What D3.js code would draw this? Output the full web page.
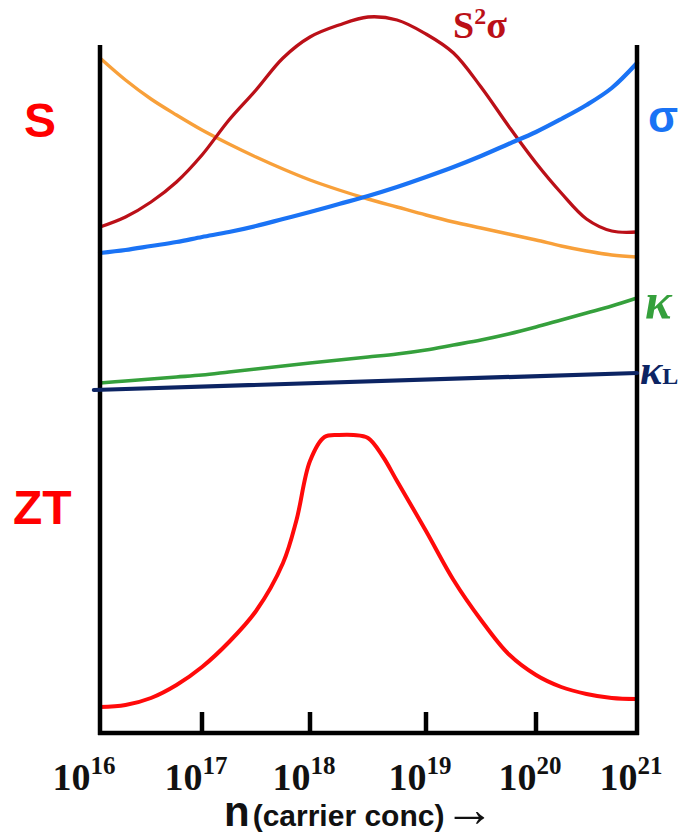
<!DOCTYPE html>
<html>
<head>
<meta charset="utf-8">
<script src="https://cdn.jsdelivr.net/npm/d3@7"></script>
<style>
  html, body { margin: 0; padding: 0; background: #fff; }
  svg { display: block; }
</style>
</head>
<body>
<div id="chart"></div>
<script>
// log10 of carrier concentration, shared grid for most curves
let logN = [16, 16.25, 16.5, 16.75, 17, 17.25, 17.5, 17.75, 18, 18.25, 18.5,
  18.75, 19, 19.25, 19.5, 19.75, 20, 20.25, 20.5, 20.75, 21];

// arbitrary units
let seebeck = [67.5, 65.3, 63.4, 61.8, 60.3, 58.9, 57.6, 56.4, 55.3, 54.3, 53.4,
  52.6, 51.8, 51.1, 50.5, 49.9, 49.3, 48.7, 48.2, 47.8, 47.6];
let powerFactor = [50.6, 51.6, 53.1, 55.1, 57.8, 61.3, 64.3, 67.5, 69.6, 70.8, 71.6,
  71.3, 69.9, 68.0, 64.6, 60.7, 57.0, 54.0, 51.4, 50.2, 50.1];
let sigma = [48.0, 48.3, 48.7, 49.1, 49.6, 50.1, 50.7, 51.4, 52.1, 52.9, 53.7,
  54.6, 55.6, 56.6, 57.7, 58.9, 60.1, 61.4, 62.8, 64.5, 67.0];
let kappa = [35.0, 35.2, 35.4, 35.6, 35.8, 36.1, 36.4, 36.7, 37.0, 37.3, 37.6,
  37.9, 38.3, 38.8, 39.3, 39.9, 40.6, 41.3, 42.0, 42.7, 43.5];

let kappaLLogN = [15.94, 21];
let kappaL = [34.3, 36.0];

let ztLogN = [16, 16.25, 16.5, 16.75, 17, 17.25, 17.5, 17.75, 17.875, 18, 18.125,
  18.25, 18.375, 18.5, 18.625, 18.75, 19, 19.25, 19.5, 19.75, 20, 20.25, 20.5, 20.75, 21];
let zt = [2.6, 2.8, 3.5, 4.8, 6.6, 9.1, 12.2, 17.0, 21.3, 27.2, 29.6,
  29.8, 29.8, 29.5, 27.7, 25.2, 20.2, 15.3, 11.3, 7.9, 5.8, 4.6, 3.9, 3.5, 3.4];

let tickExps = [16, 17, 18, 19, 20, 21];

let width = 681;
let height = 837;

let svg = d3.select('#chart').append('svg')
    .attr('width', width)
    .attr('height', height);

// the hand-drawn decades are not quite evenly spaced
let x = d3.scaleLinear()
    .domain(tickExps)
    .range([100, 202, 310, 426, 536, 637]);
let y = d3.scaleLinear().domain([0, 72]).range([733, 13]);

function drawCurve(xs, ys, color, w) {
  let pts = xs.map((v, i) => [v, ys[i]]);
  svg.append('path')
      .datum(pts)
      .attr('fill', 'none')
      .attr('stroke', color)
      .attr('stroke-width', w)
      .attr('stroke-linecap', 'round')
      .attr('stroke-linejoin', 'round')
      .attr('d', d3.line()
          .curve(d3.curveCatmullRom.alpha(0.5))
          .x((d) => x(d[0]))
          .y((d) => y(d[1])));
}

drawCurve(logN, seebeck, '#f8a03a', 3.4);
drawCurve(logN, powerFactor, '#bb1018', 3.3);
drawCurve(logN, sigma, '#1a73f5', 4.2);
drawCurve(logN, kappa, '#35a03c', 3.6);
drawCurve(ztLogN, zt, '#ff0a0a', 4);

// frame: two verticals + bottom axis with inner ticks
let frame = svg.append('g').attr('stroke', '#000').attr('stroke-width', 4.5);
frame.append('line').attr('x1', x(16)).attr('x2', x(16)).attr('y1', 45).attr('y2', y(0) + 2);
frame.append('line').attr('x1', x(21)).attr('x2', x(21)).attr('y1', 45).attr('y2', y(0) + 2);
frame.append('line').attr('x1', x(16) - 2).attr('x2', x(21) + 2).attr('y1', y(0)).attr('y2', y(0));
frame.selectAll('line.tick')
    .data(tickExps.slice(1, -1))
    .enter().append('line')
    .attr('class', 'tick')
    .attr('x1', (d) => x(d)).attr('x2', (d) => x(d))
    .attr('y1', y(0)).attr('y2', y(0) - 21);

drawCurve(kappaLLogN, kappaL, '#0c2463', 4.2);

// tick labels 10^n
let tl = svg.append('g')
    .attr('font-family', '"Liberation Serif", "Times New Roman", serif')
    .attr('font-weight', 'bold')
    .attr('fill', '#111');
tickExps.forEach((e, i) => {
  let t = tl.append('text')
      .attr('x', x(e) - (i === 0 ? 16 : 6))
      .attr('y', 790)
      .attr('text-anchor', 'middle')
      .attr('font-size', 38);
  t.append('tspan').text('10');
  t.append('tspan').attr('font-size', 25).attr('dy', -16).text(e);
});

// axis title
let title = svg.append('text')
    .attr('x', 224)
    .attr('y', 826)
    .attr('font-family', '"Liberation Sans", Arial, sans-serif')
    .attr('font-weight', 'bold')
    .attr('fill', '#111');
title.append('tspan').attr('font-size', 42).text('n');
title.append('tspan').attr('font-size', 30).attr('dx', 3).text('(carrier conc)');
title.append('tspan')
    .attr('font-family', '"Liberation Serif", serif')
    .attr('font-weight', 'normal')
    .attr('font-size', 50).text('\u2192');

// curve labels
let sans = '"Liberation Sans", Arial, sans-serif';
let serif = '"Liberation Serif", "Times New Roman", serif';

svg.append('text').attr('x', 24).attr('y', 137)
    .attr('font-family', sans).attr('font-weight', 'bold')
    .attr('font-size', 48).attr('fill', '#ff0000').text('S');
svg.append('text').attr('x', 13).attr('y', 524)
    .attr('font-family', sans).attr('font-weight', 'bold')
    .attr('font-size', 48).attr('fill', '#ff0000').text('ZT');

let pf = svg.append('text').attr('x', 453).attr('y', 38)
    .attr('font-family', serif).attr('font-weight', 'bold')
    .attr('font-size', 38).attr('fill', '#bb1018');
pf.append('tspan').text('S');
pf.append('tspan').attr('font-size', 24).attr('dy', -14).text('2');
pf.append('tspan').attr('dy', 14).text('\u03c3');

svg.append('text').attr('x', 648).attr('y', 132)
    .attr('font-family', sans).attr('font-weight', 'bold')
    .attr('font-size', 44).attr('fill', '#1a73f5').text('\u03c3');
svg.append('text').attr('x', 645).attr('y', 318)
    .attr('font-family', serif).attr('font-weight', 'bold').attr('font-style', 'italic')
    .attr('font-size', 50).attr('fill', '#35a03c').text('\u03ba');
let kl = svg.append('text').attr('x', 640).attr('y', 384)
    .attr('font-family', serif).attr('font-weight', 'bold')
    .attr('fill', '#0c2463');
kl.append('tspan').attr('font-style', 'italic').attr('font-size', 42).text('\u03ba');
kl.append('tspan').attr('font-size', 24).text('L');
</script>
</body>
</html>
